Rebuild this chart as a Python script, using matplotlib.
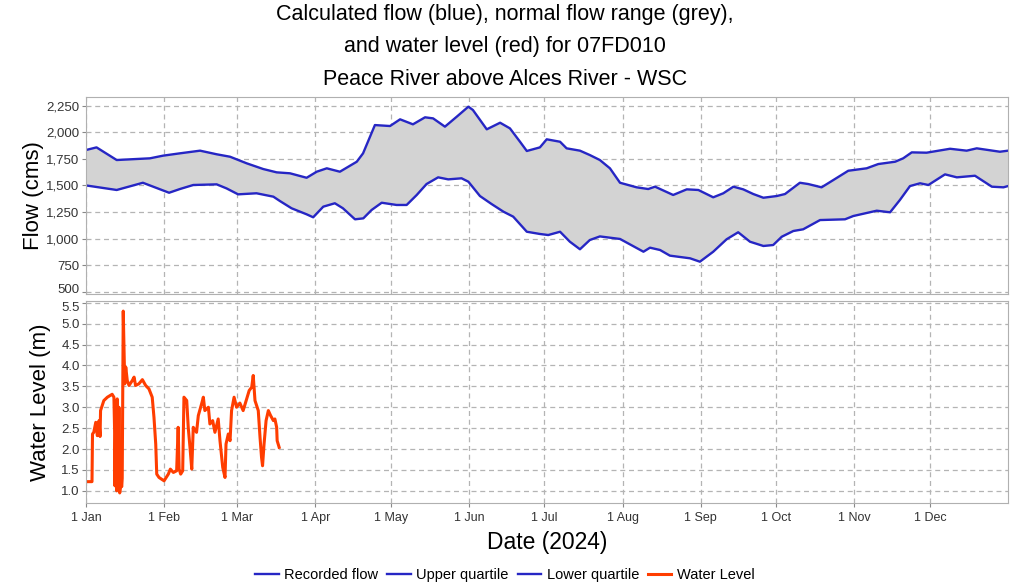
# Peace River above Alces River - flow quartiles and water level, 2024

import numpy as np
import matplotlib.pyplot as plt
import matplotlib.transforms as mtransforms
from matplotlib.ticker import FuncFormatter

plt.rcParams['font.family'] = ['Liberation Sans', 'DejaVu Sans']

# normal flow range (day of year, cms)
upper_days = [0, 4.2, 12.2, 25.4, 30.6, 37.3, 45.3, 51.9, 57.2, 63.8, 70.4, 75.7, 81, 87.6,
              91.6, 95.6, 100.8, 107.5, 110, 114.7, 120.7, 124.7, 129.8, 134.6, 137.8, 142.5,
              147.2, 151.8, 153.6, 159.1, 164.4, 168.3, 172.3, 175, 180.2, 182.9, 188.2, 190.8,
              196.1, 200, 204, 208, 212, 218.6, 223.2, 225.9, 233.1, 238.5, 243.1, 249, 253,
              257, 260.9, 264.9, 268.9, 274.2, 277.5, 283.4, 286.7, 292, 296.7, 302.6, 309.9,
              314.5, 321.2, 324.4, 327.8, 333.7, 343, 349.6, 353.6, 362.8, 366]
upper_flow = [1833, 1858, 1739, 1755, 1780, 1802, 1827, 1793, 1770, 1708, 1654, 1623, 1614, 1572,
              1629, 1661, 1629, 1723, 1802, 2068, 2059, 2122, 2075, 2141, 2131, 2053,
              2147, 2241, 2210, 2028, 2090, 2037, 1911, 1824, 1858, 1934, 1911, 1849,
              1827, 1786, 1739, 1661, 1525, 1482, 1466, 1488, 1410, 1463, 1457, 1388, 1426,
              1488, 1463, 1419, 1384, 1400, 1419, 1525, 1513, 1482, 1551, 1638, 1661,
              1701, 1723, 1755, 1811, 1808, 1845, 1827, 1849, 1817, 1827]

lower_days = [0, 12.2, 22.6, 33, 37.3, 42.6, 51.9, 55.8, 60.4, 67.7, 74.4, 77, 81.6, 87.6, 90.2,
              94.2, 98.8, 102, 106.8, 110.1, 113.4, 117.4, 123.3, 127.3, 131.3, 135.2, 139.8,
              143.8, 149.1, 151.8, 156.4, 161, 165.7, 169.6, 175, 180.2, 183.5, 188.2, 192.1,
              196.1, 200, 204, 212, 221.3, 223.9, 227.9, 231.8, 239.8, 243.7, 249, 254.3,
              258.9, 263.6, 268.9, 272.8, 276.2, 280.8, 284.7, 291.4, 301.3, 304.6, 313.9,
              319.2, 323.1, 327.1, 331.1, 334.4, 341, 345.7, 352.9, 359.6, 364.2, 366]
lower_flow = [1500, 1457, 1525, 1431, 1466, 1504, 1510, 1472, 1416, 1426, 1394, 1353, 1285, 1228, 1200,
              1300, 1332, 1285, 1181, 1190, 1269, 1337, 1316, 1316, 1410, 1513, 1576,
              1557, 1567, 1535, 1400, 1325, 1253, 1206, 1064, 1043, 1033, 1064, 970,
              899, 986, 1020, 996, 876, 914, 892, 839, 814, 782, 876, 993,
              1059, 970, 930, 939, 1017, 1071, 1087, 1174, 1181, 1212, 1262,
              1247, 1363, 1494, 1520, 1504, 1604, 1576, 1591, 1488, 1482, 1494]

# water level (day of year, m)
level_days = [0, 2.4, 2.6, 3.1, 3.9, 4.5, 5.2, 5.6, 5.8, 7.1, 8.5, 10.4, 11.1, 11.4, 11.5, 11.8,
              12.2, 12.4, 12.8, 13.1, 13.4, 13.8, 14.2, 14.4, 14.8, 15.4, 15.8, 16.4, 17.1, 18.4,
              19.1, 19.7, 21, 22.4, 23.7, 25, 26.3, 27, 27.7, 28.1, 29, 31, 32.7, 33.5, 34.7,
              36, 36.6, 37, 37.6, 38.4, 38.9, 40, 40.6, 41.3, 42, 42.6, 43.9, 44.6, 45.9, 46.6,
              47.2, 48.6, 49.2, 50.3, 51.2, 52.5, 53.2, 54.3, 55.2, 55.6, 56.5, 57.2, 57.8,
              58.8, 59.8, 61.1, 62.4, 63.8, 64.8, 65.8, 66.4, 67.1, 68.4, 69.1, 69.7, 70.1,
              70.7, 71.5, 72.4, 73.3, 74.4, 75, 75.7, 75.9, 76.7]
level_m = [1.22, 1.22, 2.36, 2.40, 2.64, 2.32, 2.68, 2.30, 2.92, 3.16, 3.24, 3.31, 3.24, 2.37, 1.12, 2.8,
           1.0, 3.2, 1.2, 3.0, 0.95, 1.2, 1.1, 1.3, 5.3, 3.56, 3.96, 3.64, 3.52, 3.64,
           3.72, 3.52, 3.56, 3.66, 3.52, 3.44, 3.24, 2.76, 2.12, 1.40, 1.32, 1.24, 1.40, 1.52, 1.44,
           1.48, 2.52, 1.52, 1.40, 1.48, 3.24, 3.16, 2.52, 2.04, 1.52, 2.52, 2.40, 2.80, 3.08, 3.24,
           2.92, 3.00, 2.60, 2.68, 2.40, 2.72, 2.20, 1.56, 1.32, 2.12, 2.36, 2.20, 2.92,
           3.24, 3.00, 3.10, 2.92, 3.20, 3.40, 3.48, 3.76, 3.16, 2.92, 2.28, 1.80, 1.60,
           2.12, 2.68, 2.92, 2.80, 2.68, 2.72, 2.52, 2.20, 2.04]

month_days = [0, 31, 60, 91, 121, 152, 182, 213, 244, 274, 305, 335]
month_labels = ['1 Jan', '1 Feb', '1 Mar', '1 Apr', '1 May', '1 Jun',
                '1 Jul', '1 Aug', '1 Sep', '1 Oct', '1 Nov', '1 Dec']

blue = '#2626c4'
red = '#ff3d00'

fig = plt.figure(figsize=(10.1, 5.88), dpi=100)
ax1 = fig.add_axes([0.0851, 0.5, 0.9129, 0.335])
ax2 = fig.add_axes([0.0851, 0.1446, 0.9129, 0.3434])

# shade normal range between the two quartile curves
grid_days = np.union1d(upper_days, lower_days)
up_i = np.interp(grid_days, upper_days, upper_flow)
lo_i = np.interp(grid_days, lower_days, lower_flow)
ax1.fill_between(grid_days, lo_i, up_i, color='#d3d3d3', lw=0)
ax1.plot([], [], color=blue, lw=1.7, label='Recorded flow')
ax1.plot(upper_days, upper_flow, color=blue, lw=1.7, label='Upper quartile')
ax1.plot(lower_days, lower_flow, color=blue, lw=1.7, label='Lower quartile')

ax2.plot(level_days, level_m, color=red, lw=2.2, label='Water Level')

for ax in (ax1, ax2):
    ax.set_xlim(0, 366)
    ax.set_xticks(month_days)
    ax.grid(True, color='#b4b4b4', ls=(0, (4, 3)), lw=0.9)
    ax.set_axisbelow(True)
    for s in ax.spines.values():
        s.set_color('#b0b0b0')
    ax.tick_params(colors='#888888', labelcolor='#333333', labelsize=9.5, length=3)
    ax.tick_params(axis='y', pad=1.5)

ax1.set_xticklabels([])
ax1.tick_params(axis='x', length=0)
ax2.set_xticklabels(month_labels)
ax2.tick_params(axis='x', labelsize=9)

ax1.set_ylim(478, 2332)
ax1.set_yticks(np.arange(500, 2251, 250))
ax1.yaxis.set_major_formatter(FuncFormatter(lambda v, p: f'{int(v):,}'))
ax1.set_ylabel('Flow (cms)', fontsize=16, labelpad=2)

ax2.set_ylim(0.71, 5.54)
ax2.set_yticks(np.arange(1.0, 5.51, 0.5))
ax2.yaxis.set_major_formatter(FuncFormatter(lambda v, p: f'{v:.1f}'))
ax2.set_ylabel('Water Level (m)', fontsize=16, labelpad=7)
ax2.set_xlabel('Date (2024)', fontsize=16.5, labelpad=5)

# the "500" and "5.5" labels sit very close together; nudge them apart
fig.canvas.draw()
up = mtransforms.ScaledTranslation(0, 2.5 / 72, fig.dpi_scale_trans)
down = mtransforms.ScaledTranslation(0, -2.5 / 72, fig.dpi_scale_trans)
lab500 = ax1.get_yticklabels()[0]
lab500.set_transform(lab500.get_transform() + up)
lab55 = ax2.get_yticklabels()[-1]
lab55.set_transform(lab55.get_transform() + down)

fig.suptitle('Calculated flow (blue), normal flow range (grey),\n'
             'and water level (red) for 07FD010\n'
             'Peace River above Alces River - WSC',
             fontsize=15.5, y=0.993, x=0.5, va='top', linespacing=1.7)

h1, l1 = ax1.get_legend_handles_labels()
h2, l2 = ax2.get_legend_handles_labels()
fig.legend(h1 + h2, l1 + l2, loc='lower center', ncol=4, frameon=False,
           fontsize=10.5, bbox_to_anchor=(0.5, -0.012), handlelength=1.6,
           columnspacing=0.6, handletextpad=0.4)

plt.savefig('out.png', dpi=100)
